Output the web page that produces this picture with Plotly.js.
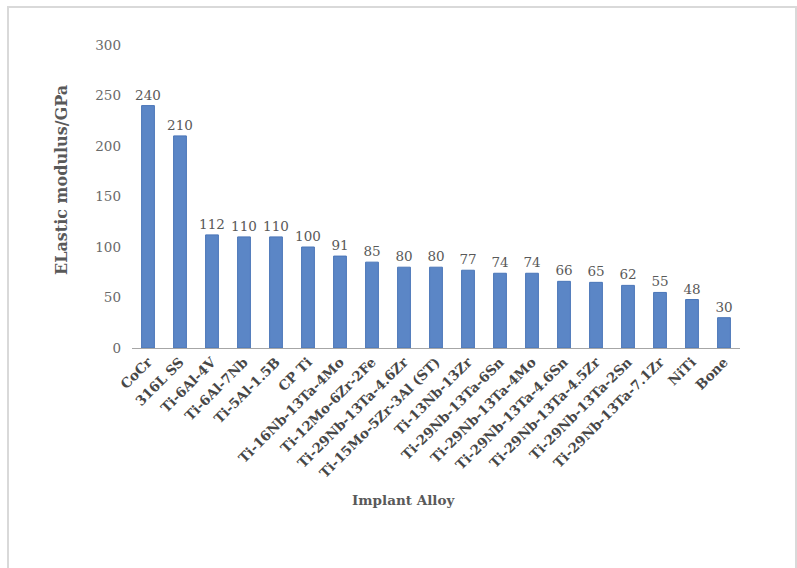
<!DOCTYPE html>
<html><head><meta charset="utf-8">
<script src="https://cdn.plot.ly/plotly-3.0.1.min.js"></script>
<style>html,body{margin:0;padding:0;background:#fff}</style>
</head><body>
<div id="chart" style="width:797px;height:568px"></div>
<script>
const alloys = ["CoCr","316L SS","Ti-6Al-4V","Ti-6Al-7Nb","Ti-5Al-1.5B","CP Ti","Ti-16Nb-13Ta-4Mo","Ti-12Mo-6Zr-2Fe","Ti-29Nb-13Ta-4.6Zr","Ti-15Mo-5Zr-3Al (ST)","Ti-13Nb-13Zr","Ti-29Nb-13Ta-6Sn","Ti-29Nb-13Ta-4Mo","Ti-29Nb-13Ta-4.6Sn","Ti-29Nb-13Ta-4.5Zr","Ti-29Nb-13Ta-2Sn","Ti-29Nb-13Ta-7.1Zr","NiTi","Bone"];
const modulus = [240,210,112,110,110,100,91,85,80,80,77,74,74,66,65,62,55,48,30];
const yTicks = [0,50,100,150,200,250,300];

const serif = "DejaVu Serif, Liberation Serif, serif";
const data = [{
  type: "bar",
  x: alloys,
  y: modulus,
  text: modulus.map(String),
  textposition: "outside",
  constraintext: "none",
  cliponaxis: false,
  textfont: {family: serif, size: 13.5, color: "#595959"},
  marker: {color: "#5b86c6", line: {color: "#4a76b8", width: 1}},
  hoverinfo: "none"
}];
const layout = {
  width: 797, height: 568,
  margin: {l: 132, r: 57, t: 45, b: 220},
  paper_bgcolor: "#fff", plot_bgcolor: "#fff",
  bargap: 0.6,
  showlegend: false,
  xaxis: {
    type: "category",
    tickangle: -45,
    tickfont: {family: serif, size: 13.5, color: "#474747", weight: "bold"},
    showline: true, linecolor: "#a6a6a6", linewidth: 1,
    showgrid: false, ticks: "", zeroline: false
  },
  yaxis: {
    range: [0, 300],
    tickvals: yTicks,
    ticktext: yTicks.map(String),
    tickfont: {family: serif, size: 13.5, color: "#6a6a6a"},
    showgrid: false, showline: false, zeroline: false, ticks: "",
    ticklabelstandoff: 10
  },
  annotations: [
    {text: "<b>ELastic modulus/GPa</b>", xref: "paper", yref: "paper", x: -0.117, y: 0.554,
     xanchor: "center", yanchor: "middle", textangle: -90, showarrow: false,
     font: {family: serif, size: 16, color: "#595959"}},
    {text: "<b>Implant Alloy</b>", xref: "paper", yref: "paper", x: 0.446, y: -0.502,
     xanchor: "center", yanchor: "middle", showarrow: false,
     font: {family: serif, size: 13.5, color: "#595959"}}
  ],
  shapes: [
    {type: "rect", xref: "paper", yref: "paper",
     x0: (8-132)/608, x1: (796-132)/608, y0: (348-575)/303, y1: (348-7)/303,
     line: {color: "#d9d9d9", width: 2}, fillcolor: "rgba(0,0,0,0)", layer: "below"}
  ]
};
Plotly.newPlot("chart", data, layout, {staticPlot: true, displayModeBar: false});
</script>
</body></html>
